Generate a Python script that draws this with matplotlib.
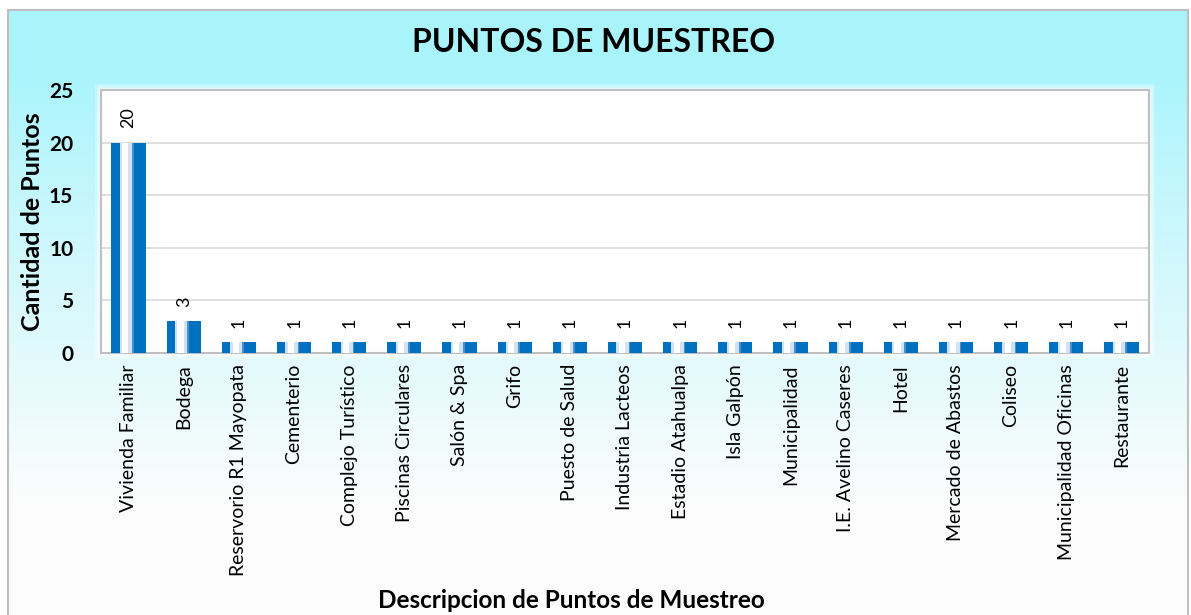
import numpy as np
import matplotlib
matplotlib.use('Agg')
import matplotlib.pyplot as plt
from matplotlib.patches import Rectangle

categorias = ['Vivienda Familiar', 'Bodega', 'Reservorio R1 Mayopata', 'Cementerio',
              'Complejo Turístico', 'Piscinas Circulares', 'Salón & Spa', 'Grifo',
              'Puesto de Salud', 'Industria Lacteos', 'Estadio Atahualpa', 'Isla Galpón',
              'Municipalidad', 'I.E. Avelino Caseres', 'Hotel', 'Mercado de Abastos',
              'Coliseo', 'Municipalidad Oficinas', 'Restaurante']
cantidad = [20, 3, 1, 1, 1, 1, 1, 1, 1, 1, 1, 1, 1, 1, 1, 1, 1, 1, 1]
yticks = [0, 5, 10, 15, 20, 25]

plt.rcParams['font.family'] = ['Lato', 'DejaVu Sans']

W, H = 1191, 615
fig = plt.figure(figsize=(W / 100, H / 100), dpi=100)
fig.patch.set_facecolor('white')

# fondo degradado cian -> blanco
bg = fig.add_axes([8 / W, 0, 1180 / W, 1 - 10 / H], zorder=-10)
grad = np.ones((200, 1, 3))
t = np.linspace(0, 1, 200)
w = np.clip((t - 0.1) / 0.72, 0, 1) ** 0.9
top = np.array([0.663, 0.957, 0.988])
bot = np.array([0.99, 0.99, 0.99])
grad[:, 0, :] = top * (1 - w[:, None]) + bot * w[:, None]
bg.imshow(grad, aspect='auto', extent=[0, 1, 0, 1])
bg.set_xlim(0, 1)
bg.set_ylim(0, 1)
bg.axis('off')
fig.patches.append(Rectangle((8 / W, -0.01), 1180 / W, 1 - 10 / H + 0.01,
                             transform=fig.transFigure, fill=False,
                             edgecolor='#BFBFBF', linewidth=1.5, zorder=5))

# brillo alrededor del area de trazado
for k, a in zip([6, 4, 2], [0.25, 0.35, 0.5]):
    fig.patches.append(Rectangle(((101 - k) / W, 1 - (353 + k) / H), (1048 + 2 * k) / W,
                                 (263 + 2 * k) / H, transform=fig.transFigure,
                                 facecolor='white', alpha=a, edgecolor='none', zorder=-5))

ax = fig.add_axes([101 / W, 1 - 353 / H, 1048 / W, 263 / H])
ax.set_facecolor('white')
x = np.arange(len(categorias))
bw = 0.62
ax.bar(x, cantidad, width=bw, color='#0070C0', zorder=3)
ax.bar(x - 0.04, cantidad, width=bw * 0.38, color='#CFE3F5', zorder=4)
ax.bar(x - 0.06, cantidad, width=bw * 0.18, color='white', zorder=5)
ax.bar(x + 0.08, cantidad, width=bw * 0.05, color='#4A90D0', zorder=5)

for xi, v in zip(x, cantidad):
    ax.text(xi, v + 1.4, str(v), rotation=90, ha='center', va='bottom',
            fontsize=13, color='black')

ax.set_xlim(-0.5, len(categorias) - 0.5)
ax.set_ylim(0, 25)
ax.set_yticks(yticks)
ax.set_yticklabels([str(v) for v in yticks], fontsize=15, fontweight='bold')
ax.set_xticks(x)
ax.set_xticklabels(categorias, rotation=90, fontsize=14)
ax.tick_params(axis='both', length=0, pad=8)
ax.tick_params(axis='y', pad=20)
ax.grid(axis='y', color='#D9D9D9', linewidth=1.2, zorder=0)
for s in ax.spines.values():
    s.set_color('#BFBFBF')
    s.set_linewidth(1.5)

fig.text(594 / W, 1 - 42 / H, 'PUNTOS DE MUESTREO', ha='center', va='center',
         fontsize=23, fontweight='bold')
fig.text(571 / W, 1 - 601 / H, 'Descripcion de Puntos de Muestreo', ha='center',
         va='center', fontsize=17.5, fontweight='bold')
fig.text(33 / W, 1 - 222 / H, 'Cantidad de Puntos', ha='center', va='center',
         rotation=90, fontsize=18, fontweight='bold')

plt.savefig('out.png', dpi=100)
